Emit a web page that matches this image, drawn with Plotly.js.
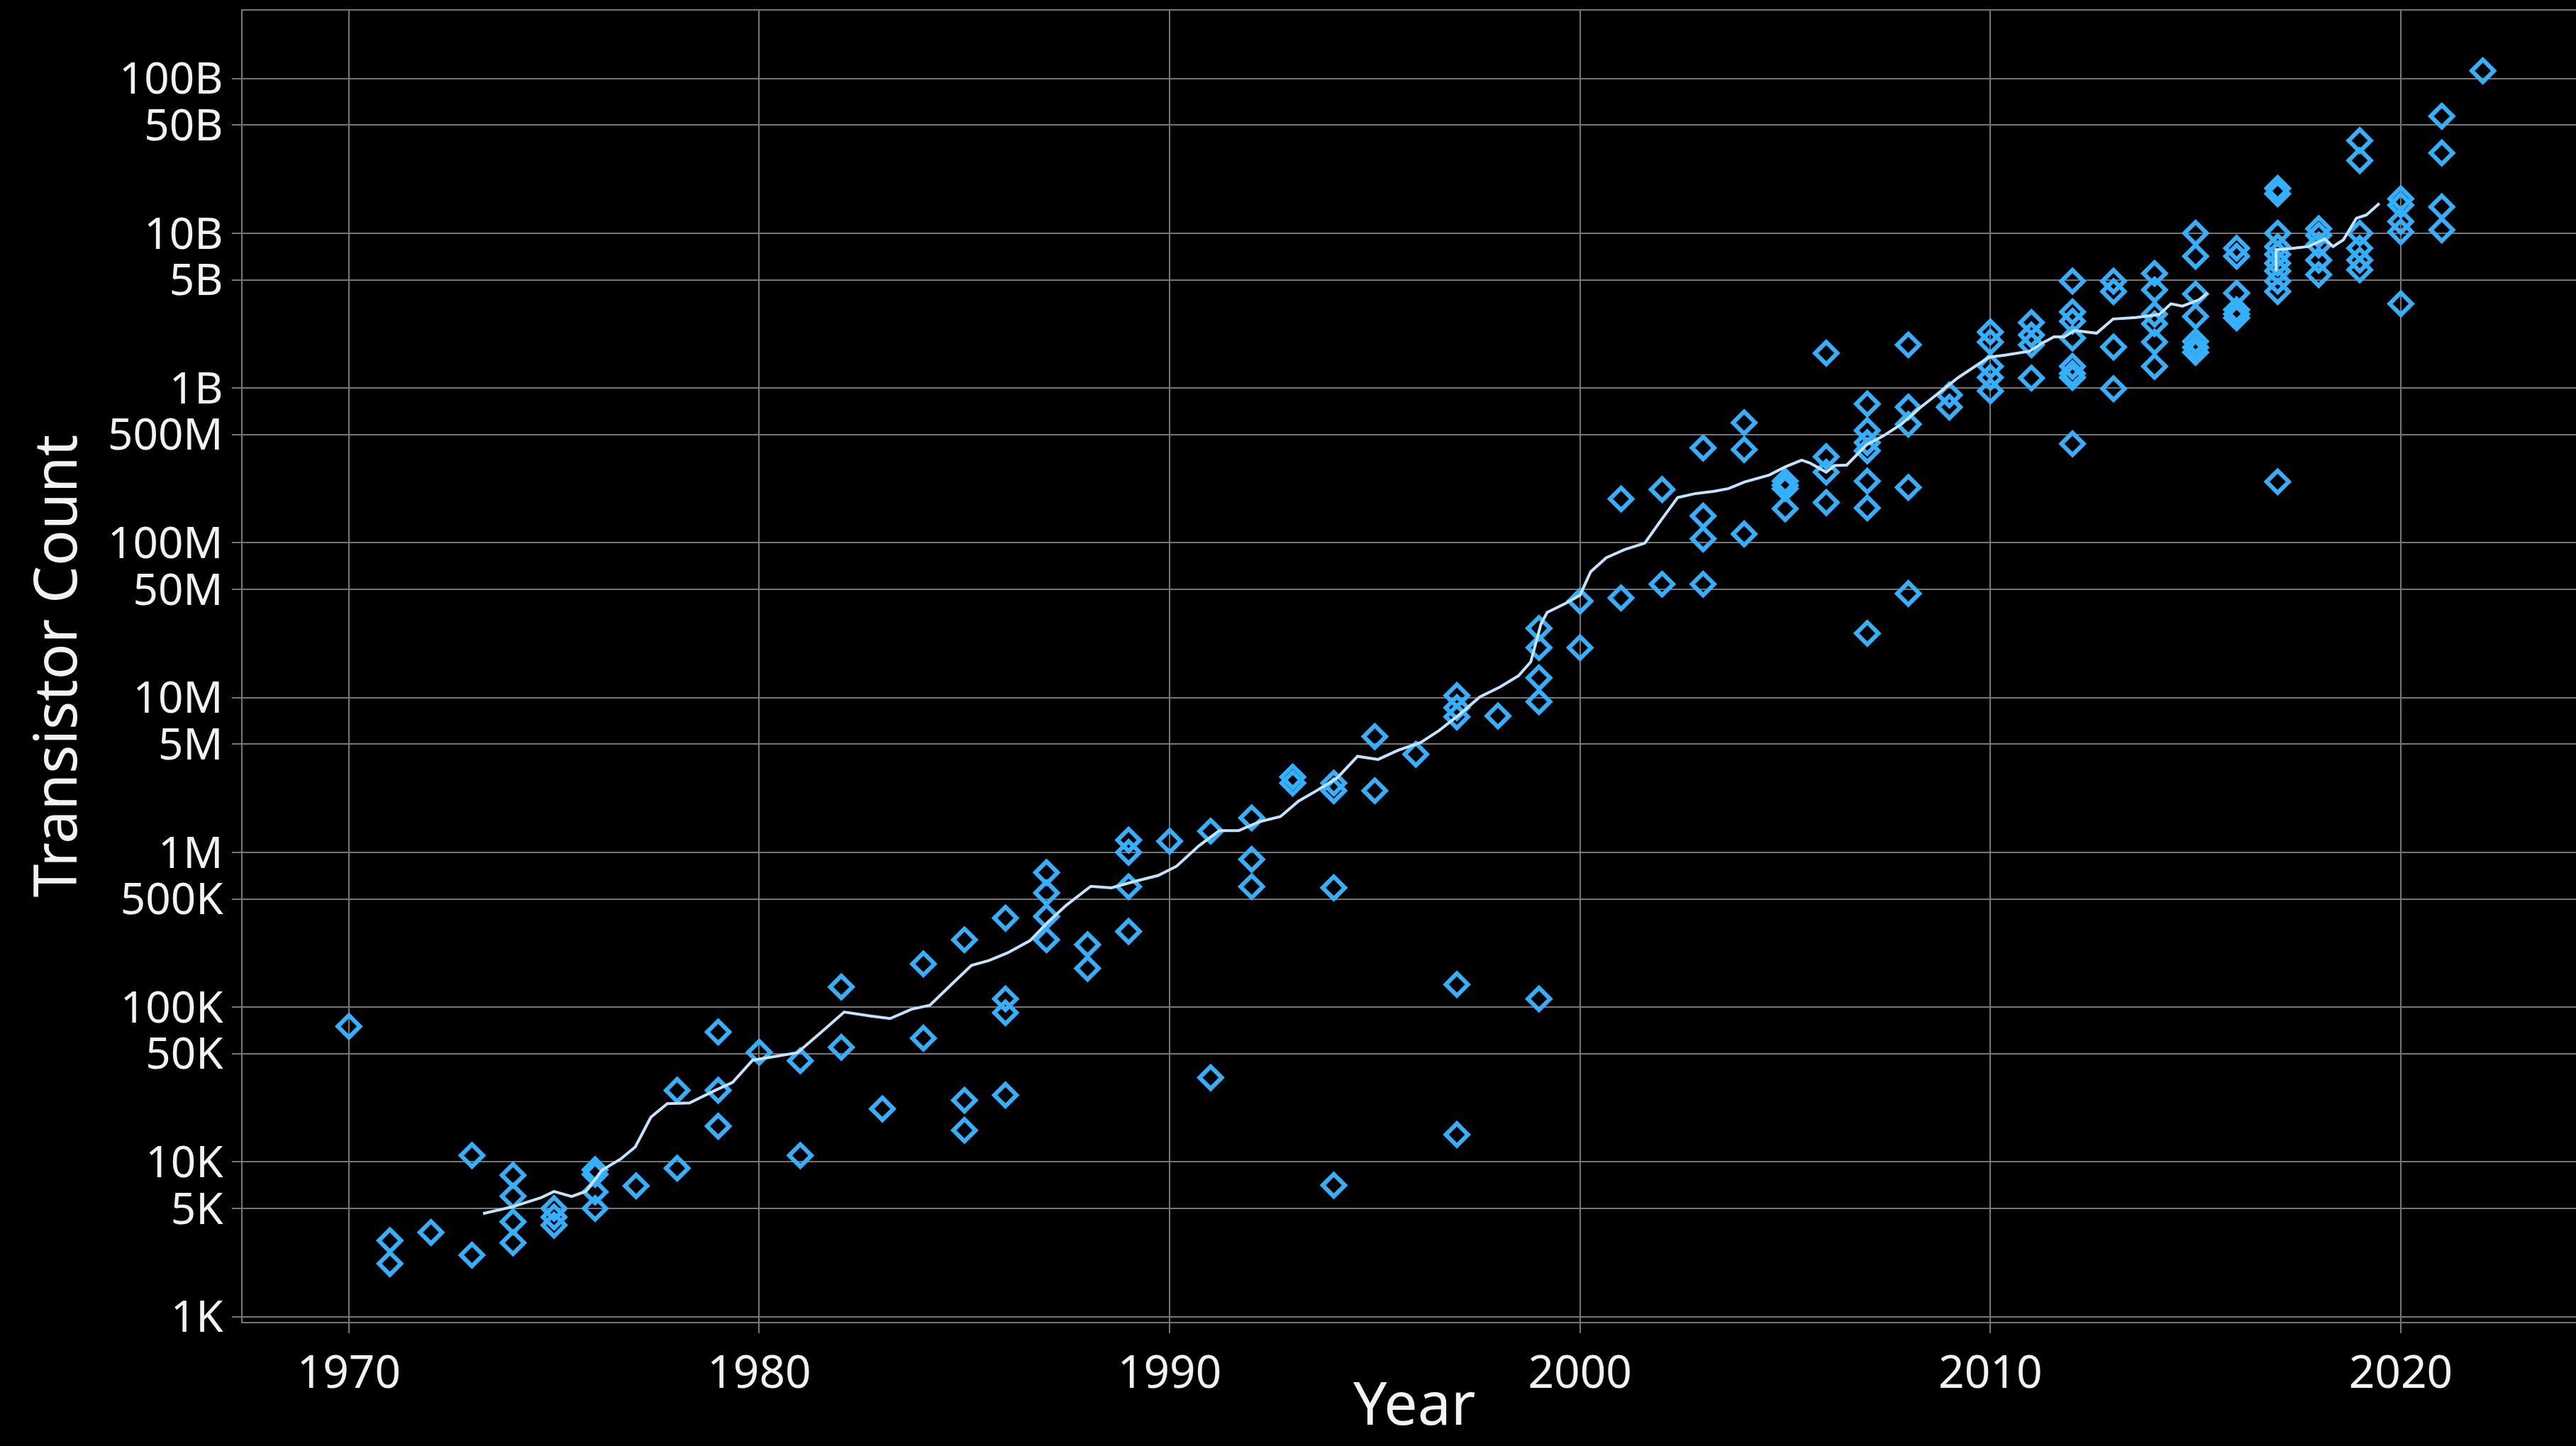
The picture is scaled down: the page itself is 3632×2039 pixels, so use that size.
<!DOCTYPE html>
<html>
<head>
<meta charset="utf-8">
<script src="https://cdn.plot.ly/plotly-3.0.1.min.js"></script>
<style>
  html, body { margin: 0; padding: 0; background: #000; }
  #chart { width: 3632px; height: 2039px; }
</style>
</head>
<body>
<div id="chart"></div>
<script>
// Processor release year and transistor count
const chipYears = [
  1970,
  1971, 1971,
  1972,
  1973, 1973,
  1974, 1974, 1974, 1974,
  1975, 1975, 1975,
  1976, 1976, 1976, 1976,
  1977,
  1978, 1978,
  1979, 1979, 1979,
  1980,
  1981, 1981,
  1982, 1982,
  1983,
  1984, 1984,
  1985, 1985, 1985,
  1986, 1986, 1986, 1986,
  1987, 1987, 1987, 1987,
  1988, 1988,
  1989, 1989, 1989, 1989,
  1990,
  1991, 1991,
  1992, 1992, 1992,
  1993, 1993,
  1994, 1994, 1994, 1994,
  1995, 1995,
  1996,
  1997, 1997, 1997, 1997, 1997,
  1998,
  1999, 1999, 1999, 1999, 1999,
  2000, 2000,
  2001, 2001,
  2002, 2002,
  2003, 2003, 2003, 2003,
  2004, 2004, 2004,
  2005, 2005, 2005, 2005,
  2006, 2006, 2006, 2006,
  2007, 2007, 2007, 2007, 2007, 2007, 2007,
  2008, 2008, 2008, 2008, 2008,
  2009, 2009,
  2010, 2010, 2010, 2010, 2010,
  2011, 2011, 2011, 2011,
  2012, 2012, 2012, 2012, 2012, 2012, 2012, 2012,
  2013, 2013, 2013, 2013,
  2014, 2014, 2014, 2014, 2014, 2014,
  2015, 2015, 2015, 2015, 2015, 2015, 2015,
  2016, 2016, 2016, 2016, 2016, 2016,
  2017, 2017, 2017, 2017, 2017, 2017, 2017, 2017, 2017, 2017,
  2018, 2018, 2018, 2018, 2018,
  2019, 2019, 2019, 2019, 2019, 2019,
  2020, 2020, 2020, 2020, 2020,
  2021, 2021, 2021, 2021,
  2022
];
const chipCounts = [
  75e3,
  3.1e3, 2.2e3,
  3.5e3,
  11e3, 2.5e3,
  8.2e3, 6e3, 4.1e3, 3e3,
  5e3, 4.4e3, 3.9e3,
  8.9e3, 8.3e3, 6.4e3, 5e3,
  7e3,
  29e3, 9.1e3,
  69e3, 29e3, 17e3,
  51e3,
  45e3, 11e3,
  135e3, 55e3,
  22e3,
  190e3, 63e3,
  272e3, 25e3, 16e3,
  376e3, 113e3, 92e3, 27e3,
  740e3, 547e3, 385e3, 272e3,
  253e3, 178e3,
  1.2e6, 1.0e6, 600e3, 308e3,
  1.18e6,
  1.37e6, 35e3,
  1.67e6, 0.9e6, 600e3,
  3.07e6, 2.8e6,
  2.8e6, 2.5e6, 590e3, 7.06e3,
  5.6e6, 2.5e6,
  4.3e6,
  10.3e6, 8.6e6, 7.5e6, 140e3, 15e3,
  7.6e6,
  28e6, 21e6, 13.4e6, 9.4e6, 113e3,
  42e6, 21e6,
  192e6, 44e6,
  221e6, 54e6,
  410e6, 149e6, 106e6, 54e6,
  597e6, 400e6, 114e6,
  250e6, 235e6, 224e6, 166e6,
  1.68e9, 360e6, 286e6, 182e6,
  789e6, 532e6, 444e6, 393e6, 250e6, 168e6, 26e6,
  1.9e9, 752e6, 583e6, 228e6, 47e6,
  902e6, 752e6,
  2.3e9, 1.98e9, 1.38e9, 1.17e9, 957e6,
  2.65e9, 2.2e9, 1.9e9, 1.16e9,
  4.9e9, 3.1e9, 2.7e9, 2.1e9, 1.38e9, 1.24e9, 1.17e9, 436e6,
  4.9e9, 4.2e9, 1.84e9, 990e6,
  5.5e9, 4.3e9, 3.0e9, 2.6e9, 1.98e9, 1.38e9,
  10e9, 7.1e9, 4.05e9, 2.9e9, 2.0e9, 1.83e9, 1.7e9,
  8.0e9, 7.1e9, 4.1e9, 3.2e9, 3.0e9, 2.84e9,
  19.5e9, 18e9, 10e9, 8.2e9, 7.3e9, 6.4e9, 5.7e9, 4.9e9, 4.2e9, 248e6,
  10.7e9, 9.7e9, 8.4e9, 6.7e9, 5.4e9,
  39.7e9, 29.5e9, 10e9, 8.0e9, 6.7e9, 5.8e9,
  16.7e9, 15.2e9, 11.9e9, 10.2e9, 3.5e9,
  57e9, 33e9, 14.8e9, 10.5e9,
  112e9
];

// Rolling-average trend line (null = gap in the line)
const trendYears = [
  1973.27, 1973.99, 1974.68, 1975.0, 1975.43, 1975.78, 1976.17, 1976.62, 1976.98, 1977.36,
  1977.76, 1978.3, 1978.95, 1979.35, 1979.84, 1980.24, 1980.93, 1981.53, 1982.07, 1982.72,
  1983.19, 1983.71, 1984.16, 1984.66, 1985.17, 1985.6, 1986.05, 1986.6, 1987.04, 1987.49,
  1988.08, 1988.58, 1989.12, 1989.72, 1990.17, 1990.71, 1991.21, 1991.68, 1992.2, 1992.7,
  1993.14, 1993.59, 1994.08, 1994.58, 1995.08, 1995.57, 1996.12, 1996.56, 1997.06, 1997.56,
  1998.05, 1998.5, 1998.8, 1999.05, 1999.2, 1999.65, 2000.0, 2000.26, 2000.64, 2001.09,
  2001.58, 2001.98, 2002.38, 2002.82, 2003.27, 2003.62, 2004.01, 2004.61, 2005.0, 2005.4,
  2005.6, 2006.0, 2006.2, 2006.5, 2006.99, 2007.4, 2007.83, 2008.28, 2008.77, 2009.22,
  2009.52, 2009.96, 2010.36, 2010.96, 2011.25, 2011.55, 2011.8, 2012.05, 2012.59, 2012.99,
  2013.54, 2014.12, 2014.4, 2014.68, 2015.09, 2015.29, 2016.0,
  2016.96, 2016.96, 2017.27, 2017.75, 2018.15, 2018.35, 2018.6, 2018.72, 2018.92, 2019.16, 2019.48
];
const trendCounts = [
  4630, 5130, 5860, 6430, 5970, 6460, 8850, 10420, 12500, 19450,
  23770, 24040, 29170, 32600, 45400, 47400, 50700, 69500, 92900, 87500,
  84300, 96800, 102800, 138000, 186000, 200000, 224000, 269000, 355000, 457000,
  603000, 589000, 646000, 708000, 813000, 1.10e6, 1.38e6, 1.38e6, 1.58e6, 1.70e6,
  2.14e6, 2.51e6, 3.02e6, 4.17e6, 3.98e6, 4.57e6, 5.13e6, 6.10e6, 7.76e6, 10.1e6,
  11.7e6, 13.8e6, 17.0e6, 29.9e6, 35.5e6, 40.6e6, 45.8e6, 65.0e6, 80.0e6, 90.4e6,
  99.5e6, 140.6e6, 196e6, 208e6, 215e6, 224e6, 247e6, 274e6, 309e6, 342e6,
  328e6, 286e6, 315e6, 318e6, 431e6, 492e6, 583e6, 743e6, 946e6, 1.17e9,
  1.32e9, 1.58e9, 1.63e9, 1.73e9, 1.94e9, 2.14e9, 2.14e9, 2.35e9, 2.26e9, 2.79e9,
  2.85e9, 2.99e9, 3.50e9, 3.38e9, 3.72e9, 4.11e9, null,
  5.68e9, 7.82e9, 7.94e9, 8.20e9, 9.18e9, 8.20e9, 9.06e9, 10.2e9, 12.5e9, 13.1e9, 15.6e9
];

// Axis ticks and titles
const yTickValues = [1e3, 5e3, 1e4, 5e4, 1e5, 5e5, 1e6, 5e6, 1e7, 5e7, 1e8, 5e8, 1e9, 5e9, 1e10, 5e10, 1e11];
const yTickLabels = ['1K', '5K', '10K', '50K', '100K', '500K', '1M', '5M', '10M', '50M', '100M', '500M', '1B', '5B', '10B', '50B', '100B'];
const xTickValues = [1970, 1980, 1990, 2000, 2010, 2020];
const xTitle = 'Year';
const yTitle = 'Transistor Count';

const gridColor = '#767676';
const textColor = '#f2f2f2';
const fontFamily = '"Noto Sans", "Open Sans", "DejaVu Sans", sans-serif';

const traces = [
  {
    type: 'scatter',
    mode: 'markers',
    x: chipYears,
    y: chipCounts,
    marker: {
      symbol: 'diamond-open',
      size: 24,
      color: '#33b1ff',
      line: { width: 6, color: '#33b1ff' }
    },
    hoverinfo: 'x+y',
    showlegend: false
  },
  {
    type: 'scatter',
    mode: 'lines',
    x: trendYears,
    y: trendCounts,
    connectgaps: false,
    line: { color: '#c2e4ff', width: 4 },
    showlegend: false
  }
];

const layout = {
  width: 3632,
  height: 2039,
  paper_bgcolor: '#000000',
  plot_bgcolor: '#000000',
  margin: { l: 342, r: 0, t: 15, b: 175, pad: 0 },
  font: { family: fontFamily, color: textColor, size: 62 },
  showlegend: false,
  xaxis: {
    range: [1967.41, 2024.27],
    tickmode: 'array',
    tickvals: xTickValues,
    ticktext: xTickValues.map(String),
    showgrid: true,
    gridcolor: gridColor,
    gridwidth: 2,
    zeroline: false,
    showline: true,
    linecolor: gridColor,
    linewidth: 2,
    mirror: true,
    ticks: 'outside',
    ticklen: 14,
    tickwidth: 2,
    tickcolor: gridColor,
    tickfont: { family: fontFamily, size: 64, color: textColor },
    automargin: false
  },
  yaxis: {
    type: 'log',
    range: [2.966, 11.438],
    tickmode: 'array',
    tickvals: yTickValues,
    ticktext: yTickLabels,
    showgrid: true,
    gridcolor: gridColor,
    gridwidth: 2,
    zeroline: false,
    showline: true,
    linecolor: gridColor,
    linewidth: 2,
    mirror: true,
    ticks: 'outside',
    ticklen: 13,
    tickwidth: 2,
    tickcolor: gridColor,
    tickfont: { family: fontFamily, size: 62, color: textColor },
    automargin: false
  },
  annotations: [
    {
      text: xTitle,
      xref: 'paper', yref: 'paper',
      x: 0.5, y: -0.061,
      xanchor: 'center', yanchor: 'middle',
      xshift: 7,
      showarrow: false,
      font: { family: fontFamily, size: 84, color: textColor }
    },
    {
      text: yTitle,
      xref: 'paper', yref: 'paper',
      x: -0.0809, y: 0.5,
      xanchor: 'center', yanchor: 'middle',
      textangle: -90,
      showarrow: false,
      font: { family: fontFamily, size: 84, color: textColor }
    }
  ]
};

Plotly.newPlot('chart', traces, layout, { displayModeBar: false, staticPlot: true });
</script>
</body>
</html>
